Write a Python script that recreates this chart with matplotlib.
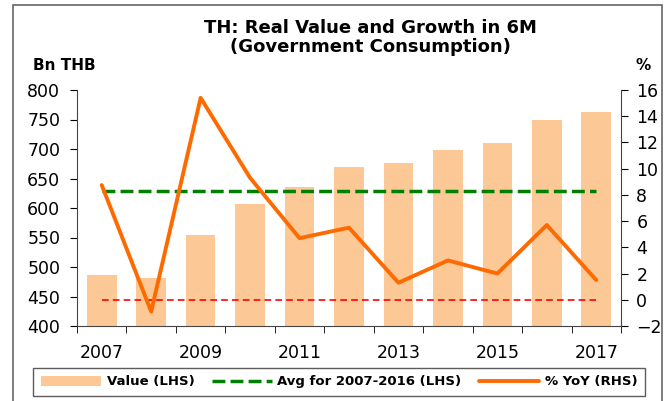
import numpy as np
import matplotlib
matplotlib.use('Agg')
import matplotlib.pyplot as plt
from matplotlib.patches import Rectangle

plt.rcParams['font.family'] = ['DejaVu Sans']

years = [2007, 2008, 2009, 2010, 2011, 2012, 2013, 2014, 2015, 2016, 2017]
value = [487, 482, 555, 606, 635, 670, 677, 698, 710, 750, 762]
yoy = [8.75, -0.9, 15.4, 9.3, 4.7, 5.5, 1.3, 3.0, 2.0, 5.7, 1.5]
avg_value = 628
zero_line = 0

bar_color = '#fcc996'
line_color = '#ff6a00'
avg_color = '#008000'

fig = plt.figure(figsize=(6.68, 4.01), dpi=100)
ax = fig.add_axes([77/668, 1-326/401, (621-77)/668, (326-90)/401])
ax2 = ax.twinx()

x = np.arange(len(years))
bars = ax.bar(x, value, width=0.6, color=bar_color, zorder=1)
avg_line, = ax.plot([x[0], x[-1]], [avg_value, avg_value], color=avg_color, lw=2.5,
                    ls=(0, (3.7, 1.5)), zorder=2)
ax2.plot([x[0], x[-1]], [zero_line, zero_line], color='red', lw=1.2, ls=(0, (4, 2.5)))
yoy_line, = ax2.plot(x, yoy, color=line_color, lw=2.8, solid_capstyle='round')

ax.set_xlim(-0.5, len(years) - 0.5)
ax.set_ylim(400, 800)
ax.set_yticks(range(400, 801, 50))
ax2.set_ylim(-2, 16)
ax2.set_yticks(range(-2, 17, 2))

ax.set_xticks(x[::2])
ax.set_xticklabels([str(y) for y in years[::2]])
ax.set_xticks(np.arange(-0.5, len(years), 1), minor=True)
ax.tick_params(axis='x', which='major', length=0, labelsize=12.5, pad=13)
ax.tick_params(axis='x', which='minor', length=5, direction='out')
ax.tick_params(axis='y', length=5, labelsize=12.5, direction='out', pad=7)
ax2.tick_params(axis='y', length=5, labelsize=12.5, direction='out', pad=6)

for a in (ax, ax2):
    a.spines['top'].set_visible(False)
ax.spines['right'].set_visible(False)
ax2.spines['left'].set_visible(False)
ax2.spines['bottom'].set_visible(False)
for s in ('left', 'bottom'):
    ax.spines[s].set_color('#444444')
ax2.spines['right'].set_color('#444444')

fig.text(370/668, 1-28/401, 'TH: Real Value and Growth in 6M', ha='center', va='center',
         fontsize=13, fontweight='bold')
fig.text(370/668, 1-47/401, '(Government Consumption)', ha='center', va='center',
         fontsize=13, fontweight='bold')
fig.text(33/668, 1-66/401, 'Bn THB', ha='left', va='center', fontsize=11, fontweight='bold')
fig.text(643/668, 1-66/401, '%', ha='center', va='center', fontsize=11, fontweight='bold')

leg = fig.legend([bars, avg_line, yoy_line],
                 ['Value (LHS)', 'Avg for 2007-2016 (LHS)', '% YoY (RHS)'],
                 loc='center', bbox_to_anchor=(339/668, 1-382/401),
                 ncol=3, frameon=True, fancybox=False, edgecolor='#333333',
                 prop={'weight': 'bold', 'size': 9.5}, handlelength=4.6, columnspacing=1.3,
                 handletextpad=0.4, borderpad=0.55)
leg.get_frame().set_linewidth(1.0)

fig.patches.append(Rectangle((13/668, -0.01), (662-13)/668, 1-5/401 + 0.01,
                             transform=fig.transFigure, fill=False,
                             edgecolor='#666666', lw=1.2))

fig.savefig('out.png', dpi=100)
